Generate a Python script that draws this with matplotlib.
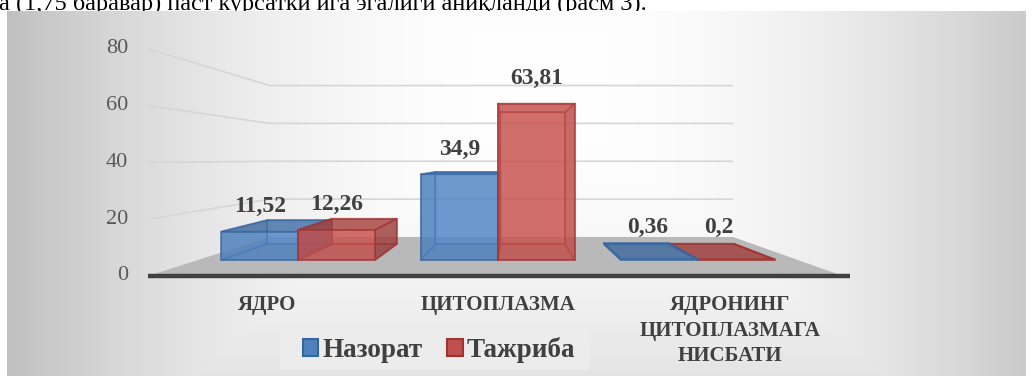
import numpy as np
import matplotlib
matplotlib.use("Agg")
import matplotlib.pyplot as plt
from matplotlib.patches import Polygon, Patch, Rectangle

# ---- data ----
categories = ["ЯДРО", "ЦИТОПЛАЗМА", "ЯДРОНИНГ\nЦИТОПЛАЗМАГА\nНИСБАТИ"]
series_names = ["Назорат", "Тажриба"]
control = [11.52, 34.9, 0.36]
experiment = [12.26, 63.81, 0.2]
value_ticks = [0, 20, 40, 60, 80]
caption = "а (1,75 баравар) паст курсатки ига эгалиги аниқланди (расм 3)."

SERIF = "Liberation Serif"
W, H = 1032, 376

# ---- layout of the 3D scene (pixels) ----
FLOOR_LEFT_PX = 148.0     # front-left corner of the floor
CAT_PX = 231.67           # width of one category on the front plane
ZERO_PX = 276.0           # value 0 on the front plane
PX_PER_UNIT = 2.84        # value scale on the front plane
VANISH_PX = (513.0, 159.0)
PERSP = 0.5               # depth foreshortening: k = 1 / (1 + PERSP * z)
BAR_W = 0.385             # bar width in category units
BAR_Z = (0.32, 0.75)      # bar depth range (0 = front, 1 = back wall)

series_colors = [("#4F81BD", "#3565A0"), ("#C0504D", "#9E3330")]

fig = plt.figure(figsize=(W / 100, H / 100), dpi=100)

# page layer: text line above the chart and the chart-area background
page = fig.add_axes([0, 0, 1, 1])
page.axis("off")
page.text(-1, 10, caption, fontsize=17.5, family=SERIF, va="baseline",
          ha="left", color="black", zorder=1)

bx0, bx1, by0, by1 = 7, 1026, 11, 376
gx = np.arange(bx0, bx1) + 0.5
gy = np.arange(by0, by1) + 0.5
GX, GY = np.meshgrid(gx, gy)
nx = np.abs(GX - 540) / 540
ny = np.abs(GY - 90) / 300
shade = 255 - np.maximum(65 * nx ** 2, 30 * ny ** 2)
g = np.clip(shade, 0, 255) / 255
page.imshow(np.dstack([g, g, g]), extent=(bx0, bx1, by1, by0), zorder=2,
            interpolation="bilinear", aspect="auto")
# legend panel
page.add_patch(Rectangle((280, 328), 310, 42, fc="#ececec", ec="none", zorder=3))
page.set_xlim(0, W)
page.set_ylim(H, 0)

# chart layer in data units: x = category index, y = value
ax = fig.add_axes([0, 0, 1, 1])
ax.set_facecolor("none")
ax.axis("off")
ax.set_xlim(-0.5 - FLOOR_LEFT_PX / CAT_PX, -0.5 + (W - FLOOR_LEFT_PX) / CAT_PX)
ax.set_ylim(-(H - ZERO_PX) / PX_PER_UNIT, ZERO_PX / PX_PER_UNIT)

vx = -0.5 + (VANISH_PX[0] - FLOOR_LEFT_PX) / CAT_PX
vy = (ZERO_PX - VANISH_PX[1]) / PX_PER_UNIT
n_cat = len(categories)
x_lo, x_hi = -0.5, n_cat - 0.5


def proj(x, v, z):
    k = 1.0 / (1.0 + PERSP * z)
    return vx + (x - vx) * k, vy + (v - vy) * k


def shade_color(hex_color, f):
    c = np.array(matplotlib.colors.to_rgb(hex_color))
    return tuple(np.clip(c * f, 0, 1))


# gridlines on the side and back walls
for t in value_ticks[1:]:
    pts = [proj(x_lo, t, 0), proj(x_lo, t, 1), proj(x_hi, t, 1)]
    ax.plot([p[0] for p in pts], [p[1] for p in pts], color="#d6d6d6",
            lw=1.2, zorder=3, solid_capstyle="butt")

# floor
floor = [proj(x_lo, 0, 0), proj(x_hi, 0, 0), proj(x_hi, 0, 1), proj(x_lo, 0, 1)]
ax.add_patch(Polygon(floor, closed=True, fc="#b9b9b9", ec="none", zorder=4))
ax.plot([x_lo, x_hi + 0.03], [0, 0], color="#404040", lw=3.2, zorder=5,
        solid_capstyle="butt")

# value axis labels
for t in value_ticks:
    ax.annotate(str(t), xy=(x_lo, t), xytext=(-20, 0), textcoords="offset pixels",
                ha="right", va="center", fontsize=16, family=SERIF,
                color="#595959", zorder=6)

# category labels
for i, name in enumerate(categories):
    ax.annotate(name, xy=(i, 0), xytext=(3, -19), textcoords="offset pixels",
                ha="center", va="top", fontsize=15, family=SERIF,
                fontweight="bold", color="#404040", linespacing=1.38,
                multialignment="center", zorder=6)


def draw_box(x0, x1, h, face, edge, zbase):
    z0, z1 = BAR_Z
    faces = [
        ([(x0, 0, z1), (x1, 0, z1), (x1, h, z1), (x0, h, z1)], 0.95),  # back
        ([(x0, 0, z0), (x1, 0, z0), (x1, 0, z1), (x0, 0, z1)], 0.80),  # bottom
        ([(x0, 0, z0), (x0, 0, z1), (x0, h, z1), (x0, h, z0)], 0.78),  # left
        ([(x1, 0, z0), (x1, 0, z1), (x1, h, z1), (x1, h, z0)], 0.78),  # right
        ([(x0, h, z0), (x1, h, z0), (x1, h, z1), (x0, h, z1)], 0.86),  # top
        ([(x0, 0, z0), (x1, 0, z0), (x1, h, z0), (x0, h, z0)], 1.08),  # front
    ]
    for j, (pts, f) in enumerate(faces):
        poly = [proj(*p) for p in pts]
        ax.add_patch(Polygon(poly, closed=True, fc=shade_color(face, f),
                             ec=edge, lw=1.3, alpha=0.6, zorder=zbase + j * 0.01,
                             joinstyle="round"))


for i in range(n_cat):
    vals = [control[i], experiment[i]]
    order = [0, 1] if i <= vx else [1, 0]
    for rank, s in enumerate(order):
        x0 = i - BAR_W + s * BAR_W
        x1 = x0 + BAR_W
        face, edge = series_colors[s]
        draw_box(x0, x1, vals[s], face, edge, 7 + rank * 0.1)

        # value label above the bar
        h = vals[s]
        fx, fy = proj((x0 + x1) / 2, h, BAR_Z[0])
        bxc, byc = proj((x0 + x1) / 2, h, BAR_Z[1])
        if h < 2:
            anchor, off = ((fx + bxc) / 2, byc), 16
        else:
            anchor, off = (fx, fy), 25
        ax.annotate(f"{h:g}".replace(".", ","), xy=anchor, xytext=(0, off),
                    textcoords="offset pixels", ha="center", va="center",
                    fontsize=17, family=SERIF, fontweight="bold",
                    color="#404040", zorder=9)

handles = [Patch(fc=series_colors[s][0], ec=series_colors[s][1], lw=1.5)
           for s in range(2)]
leg = ax.legend(handles, series_names, loc="center", ncol=2,
                bbox_to_anchor=(439 / W, 1 - 350 / H), bbox_transform=fig.transFigure,
                prop={"family": SERIF, "weight": "bold", "size": 19.5},
                frameon=False, handlelength=0.58, handleheight=0.58,
                handletextpad=0.15, columnspacing=0.9,
                borderpad=0.3, borderaxespad=0)
for t in leg.get_texts():
    t.set_color("#404040")
leg.set_zorder(10)

fig.savefig("out.png", dpi=100)
